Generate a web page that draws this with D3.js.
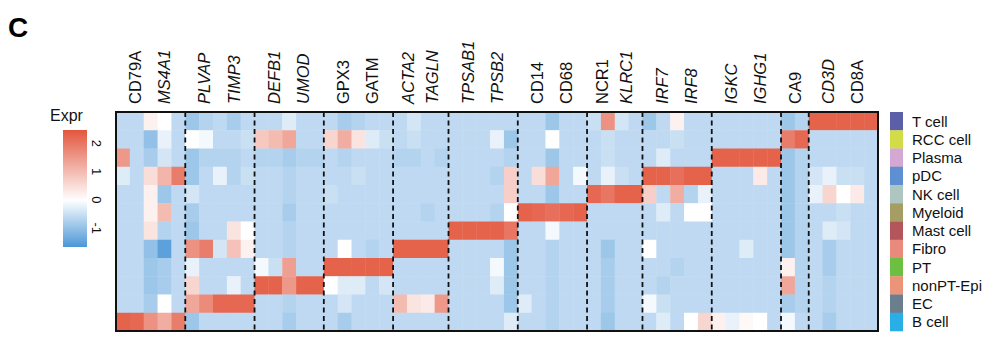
<!DOCTYPE html>
<html><head><meta charset="utf-8">
<script src="https://cdn.jsdelivr.net/npm/d3@7"></script>
<style>html,body{margin:0;padding:0;background:#fff;}svg{display:block;font-family:"Liberation Sans",Arial,sans-serif;}</style>
</head><body>
<svg id="chart" width="1000" height="349"></svg>
<script>
// ---- data ----
const cellTypes = ["T cell","RCC cell","Plasma","pDC","NK cell","Myeloid","Mast cell","Fibro","PT","nonPT-Epi","EC","B cell"];
const cellColors = ["#5b5fa8","#d2dc48","#d4a8d2","#5e8fd0","#aec6c0","#a69d64","#b3555b","#e98a7c","#6cbf40","#ec947a","#6b7e8e","#2aaee8"];
// column groups (left -> right) : marker group, number of columns
const groupNames = ["B cell","EC","nonPT-Epi","PT","Fibro","Mast cell","Myeloid","NK cell","pDC","Plasma","RCC cell","T cell"];
const groupSizes = [5,5,5,5,4,5,5,4,5,5,2,5];
const groupGenes = [["CD79A","MS4A1"],["PLVAP","TIMP3"],["DEFB1","UMOD"],["GPX3","GATM"],["ACTA2","TAGLN"],["TPSAB1","TPSB2"],["CD14","CD68"],["NCR1","KLRC1"],["IRF7","IRF8"],["IGKC","IGHG1"],["CA9"],["CD3D","CD8A"]];
const uprightGenes = ["CD79A","GPX3","GATM","CD14","CD68","NCR1","CA9","CD8A"];
const legendTicks = [-1,0,1,2];
const exprRange = [-1.66, 2.47];

// expression rows (55 columns each, grouped as groupSizes)
const rowTcell = [-0.6,-0.6,0.2,0.0,-0.6, -0.9,-0.7,-0.6,-0.8,-0.6, -0.6,-0.6,-0.3,-0.6,-0.6, -0.6,-0.8,-0.7,-0.6,-0.6, -0.6,-0.4,-0.6,-0.6, -0.6,-0.6,-0.6,-0.6,-0.6, -0.6,-0.6,-0.9,-0.6,-0.6, -0.5,1.6,-0.4,-0.6, -0.9,-0.6,0.2,-0.6,-0.6, -0.6,-0.6,-0.6,-0.6,-0.6, -0.9,-0.7, 2.3,2.3,2.3,2.3,2.3];
const rowRCC = [-0.6,-0.6,-1.0,-0.2,-0.6, 0.0,-0.1,-0.6,-0.6,-0.5, 0.8,1.0,1.3,-0.6,-0.6, 0.6,1.2,0.4,-0.3,-0.5, -0.6,-0.5,-0.6,-0.6, -0.6,-0.6,-0.6,-0.2,-0.9, -0.6,-0.6,0.0,-0.6,-0.6, -0.6,-0.5,-0.6,-0.6, -0.6,-0.6,-0.5,-0.6,-0.6, -0.6,-0.6,-0.6,-0.6,-0.6, 1.9,2.2, -0.6,-0.6,-0.6,-0.6,-0.6];
const rowPlasma = [1.5,-0.6,-0.8,-0.4,-0.6, -0.9,-0.7,-0.7,-0.7,-0.6, -0.7,-0.7,-0.8,-0.7,-0.7, -0.6,-0.7,-0.6,-0.6,-0.6, -0.7,-0.7,-0.6,-0.7, -0.6,-0.6,-0.6,-0.6,-0.7, -0.6,-0.6,-0.9,-0.6,-0.6, -0.6,-0.5,-0.6,-0.6, -0.6,-0.3,-0.6,-0.6,-0.6, 2.3,2.3,2.3,2.3,2.3, -0.9,-0.7, -0.6,-0.6,-0.6,-0.6,-0.6];
const rowPDC = [-0.3,-0.6,0.5,1.1,1.9, -0.9,-0.6,-0.2,-0.7,-0.5, -0.6,-0.6,-0.7,-0.6,-0.6, -0.6,-0.6,-0.5,-0.6,-0.6, -0.6,-0.6,-0.6,-0.6, -0.6,-0.6,-0.6,-0.7,0.7, -0.6,0.5,1.3,-0.6,-0.1, -0.6,-0.2,-0.5,-0.6, 2.3,2.3,2.1,2.3,2.3, -0.6,-0.6,-0.6,0.3,-0.6, -0.9,-0.7, -0.4,-0.2,-0.5,-0.5,-0.6];
const rowNK = [-0.6,-0.6,0.2,-0.9,-0.6, -0.4,-0.6,-0.6,-0.6,-0.6, -0.6,-0.6,-0.7,-0.6,-0.6, -0.5,-0.6,-0.6,-0.6,-0.6, -0.6,-0.6,-0.6,-0.6, -0.6,-0.6,-0.6,-0.6,0.7, -0.6,-0.6,-0.9,-0.6,-0.6, 2.2,2.0,2.3,2.3, 0.7,-0.6,1.2,-0.7,-0.2, -0.6,-0.6,-0.6,-0.6,-0.6, -0.9,-0.7, -0.2,0.6,0.0,0.3,-0.6];
const rowMyeloid = [-0.6,-0.6,0.2,1.0,-0.6, -0.8,-0.6,-0.6,-0.6,-0.6, -0.6,-0.6,-0.8,-0.6,-0.6, -0.6,-0.6,-0.6,-0.6,-0.6, -0.6,-0.6,-0.7,-0.6, -0.6,-0.6,-0.6,-0.7,0.0, 2.3,2.2,2.1,2.2,2.3, -0.6,-0.6,-0.6,-0.6, -0.6,-0.3,-0.6,0.0,0.0, -0.6,-0.6,-0.6,-0.6,-0.6, -0.9,-0.7, -0.6,-0.6,-0.5,-0.6,-0.6];
const rowMast = [-0.6,-0.6,0.4,-0.7,-0.6, -0.9,-0.6,-0.6,0.4,0.0, -0.6,-0.6,-0.7,-0.6,-0.6, -0.6,-0.6,-0.6,-0.6,-0.6, -0.6,-0.6,-0.6,-0.6, 2.3,2.3,2.3,2.3,2.0, -0.6,-0.6,-0.1,-0.6,-0.6, -0.6,-0.6,-0.6,-0.6, -0.6,-0.6,-0.6,-0.6,-0.6, -0.6,-0.6,-0.6,-0.6,-0.6, -0.9,-0.7, -0.6,-0.3,-0.4,-0.6,-0.6];
const rowFibro = [-0.6,-0.6,-1.0,-1.5,-0.6, 1.6,1.9,-0.4,0.9,0.2, -0.6,-0.6,-0.7,-0.6,-0.6, -0.6,0.0,-0.6,-0.7,-0.6, 2.3,2.3,2.3,2.3, -0.6,-0.6,-0.6,-0.6,-0.9, -0.6,-0.6,-0.7,-0.6,-0.6, -0.6,-0.9,-0.6,-0.6, 0.0,-0.6,-0.6,-0.6,-0.6, -0.6,-0.6,-0.3,-0.6,-0.6, -0.9,-0.7, -0.6,-0.8,-0.6,-0.6,-0.6];
const rowPT = [-0.6,-0.6,-0.9,-0.8,-0.6, -0.2,-0.6,-0.6,-0.6,-0.6, -0.1,-0.5,1.4,-0.6,-0.6, 2.3,2.3,2.3,2.3,2.3, -0.6,-0.6,-0.6,-0.6, -0.6,-0.6,-0.6,-0.1,-0.9, -0.6,-0.6,-0.7,-0.6,-0.6, -0.6,-0.8,-0.6,-0.6, -0.6,-0.6,-0.7,-0.6,-0.6, -0.6,-0.6,-0.6,-0.6,-0.6, 0.2,-0.7, -0.6,-0.8,-0.6,-0.6,-0.6];
const rowNonPT = [-0.6,-0.6,-0.9,-0.8,-0.6, 0.6,-0.6,-0.6,-0.2,-0.6, 2.3,2.3,1.5,2.3,2.3, 0.0,-0.3,-0.3,-0.6,-0.4, -0.6,-0.6,-0.6,-0.6, -0.6,-0.6,-0.6,-0.3,-0.9, -0.6,-0.6,-0.7,-0.6,-0.6, -0.6,-0.8,-0.6,-0.6, -0.6,-0.7,-0.6,-0.6,-0.6, -0.6,-0.6,-0.6,-0.6,-0.6, 1.3,-0.7, -0.6,-0.7,-0.6,-0.6,-0.6];
const rowEC = [-0.6,-0.6,-0.8,0.0,-0.6, 1.3,1.7,2.2,2.2,2.2, -0.6,-0.6,-0.7,-0.6,-0.6, -0.6,-0.4,-0.6,-0.6,-0.6, 1.0,0.4,0.3,1.5, -0.6,-0.6,-0.6,-0.6,-0.9, -0.3,-0.6,-0.7,-0.6,-0.6, -0.6,-0.8,-0.6,-0.6, -0.1,-0.5,-0.6,-0.6,-0.6, -0.6,-0.6,-0.6,-0.6,-0.6, -0.8,-0.7, -0.6,-0.7,-0.6,-0.6,-0.6];
const rowBcell = [2.3,2.2,1.6,1.2,1.9, -0.9,-0.6,-0.6,-0.6,-0.6, -0.6,-0.6,-0.8,-0.6,-0.6, -0.6,-0.8,-0.6,-0.6,-0.6, -0.6,-0.6,-0.6,-0.6, -0.6,-0.6,-0.6,-0.6,-0.3, -0.6,-0.6,-0.7,-0.6,-0.6, -0.6,-0.9,-0.6,-0.6, -0.6,-0.3,-0.6,0.0,0.6, 0.2,-0.2,0.1,0.0,-0.6, -0.1,-0.6, -0.6,-0.8,-0.6,-0.6,-0.6];
const matrix = [rowTcell,rowRCC,rowPlasma,rowPDC,rowNK,rowMyeloid,rowMast,rowFibro,rowPT,rowNonPT,rowEC,rowBcell];

// ---- layout ----
const svg = d3.select("#chart");
const H = {x0:116, x1:878, y0:112, y1:331};
const nCols = d3.sum(groupSizes);
const x = d3.scaleBand().domain(d3.range(nCols)).range([H.x0,H.x1]);
const y = d3.scaleBand().domain(cellTypes).range([H.y0,H.y1]);
const color = d3.scaleLinear().domain([exprRange[0],0,exprRange[1]])
  .range(["#4b97d7","#ffffff","#e3563e"]).interpolate(d3.interpolateRgb).clamp(true);

// title
svg.append("text").attr("x",8).attr("y",37).attr("font-size",28).attr("font-weight","bold").text("C");

// cells
const cells = [];
matrix.forEach((row,ri)=>row.forEach((v,ci)=>cells.push({r:cellTypes[ri],c:ci,v})));
svg.append("g").selectAll("rect").data(cells).join("rect")
  .attr("x",d=>x(d.c)).attr("y",d=>y(d.r))
  .attr("width",x.bandwidth()+0.4).attr("height",y.bandwidth()+0.4)
  .attr("fill",d=>color(d.v));

// groups
const starts = [];
let acc = 0;
groupSizes.forEach(s=>{starts.push(acc); acc+=s;});
const gx0 = i => x(starts[i]);
const gx1 = i => x(starts[i]+groupSizes[i]-1)+x.bandwidth();
svg.append("g").selectAll("line").data(d3.range(1,groupSizes.length)).join("line")
  .attr("x1",i=>gx0(i)).attr("x2",i=>gx0(i)).attr("y1",H.y0).attr("y2",H.y1)
  .attr("stroke","#111").attr("stroke-width",1.8).attr("stroke-dasharray","5,3.5");
svg.append("rect").attr("x",H.x0).attr("y",H.y0).attr("width",H.x1-H.x0).attr("height",H.y1-H.y0)
  .attr("fill","none").attr("stroke","#111").attr("stroke-width",2);

// gene labels
const labels = [];
groupGenes.forEach((gs,gi)=>{
  const a = gx0(gi), b = gx1(gi), w = b-a;
  gs.forEach((g,k)=>{
    const fx = gs.length===1 ? 0.5 : (k===0 ? 0.28 : 0.70);
    labels.push({g, x:a+w*fx});
  });
});
svg.append("g").selectAll("text").data(labels).join("text")
  .attr("transform",d=>`translate(${d.x},104) rotate(-90)`)
  .attr("dy","0.35em").attr("font-size",16.5).attr("fill","#111")
  .attr("font-style",d=>uprightGenes.includes(d.g)?"normal":"italic")
  .text(d=>d.g);

// right legend
const lg = svg.append("g");
lg.selectAll("rect").data(cellTypes).join("rect")
  .attr("x",890).attr("y",d=>y(d)).attr("width",13).attr("height",y.bandwidth()+0.3)
  .attr("fill",(d,i)=>cellColors[i]);
lg.selectAll("text").data(cellTypes).join("text")
  .attr("x",912).attr("y",d=>y(d)+y.bandwidth()/2).attr("dy","0.36em")
  .attr("font-size",15).attr("fill","#111").text(d=>d);

// color bar
const cb = {x:63, w:24, y0:130, y1:247};
const cy = d3.scaleLinear().domain(exprRange).range([cb.y1,cb.y0]);
const defs = svg.append("defs");
const grad = defs.append("linearGradient").attr("id","cbgrad").attr("x1",0).attr("x2",0).attr("y1",1).attr("y2",0);
d3.range(0,1.0001,0.05).forEach(t=>{
  const v = exprRange[0]+t*(exprRange[1]-exprRange[0]);
  grad.append("stop").attr("offset",t).attr("stop-color",color(v));
});
svg.append("rect").attr("x",cb.x).attr("y",cb.y0).attr("width",cb.w).attr("height",cb.y1-cb.y0).attr("fill","url(#cbgrad)");
svg.append("text").attr("x",50).attr("y",121).attr("font-size",16).attr("fill","#111").text("Expr");
svg.append("g").selectAll("text").data(legendTicks).join("text")
  .attr("transform",d=>`translate(97,${cy(d)}) rotate(90)`)
  .attr("text-anchor","middle").attr("dy","0.35em").attr("font-size",13).attr("fill","#111")
  .text(d=>d);
</script>
</body></html>
